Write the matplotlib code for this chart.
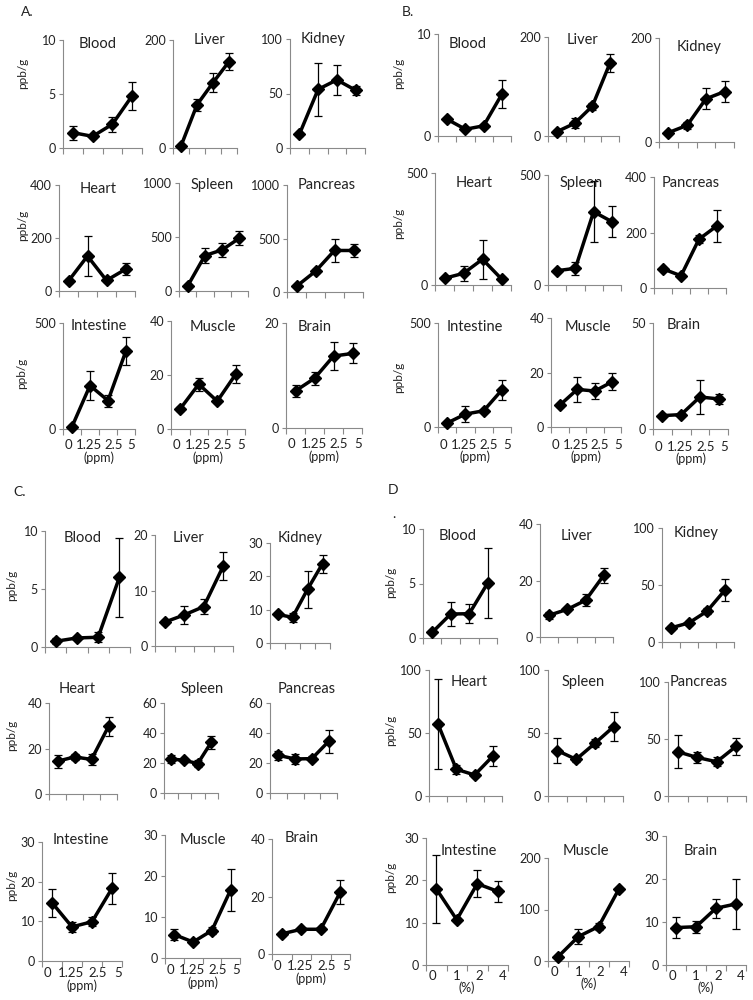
import numpy as np
import matplotlib
matplotlib.use("Agg")
import matplotlib.pyplot as plt

plt.rcParams['font.family'] = ['Lato', 'DejaVu Sans']

# tissue order, same in all four panels (3x3 grid, row by row)
tissues = ["Blood", "Liver", "Kidney", "Heart", "Spleen", "Pancreas",
           "Intestine", "Muscle", "Brain"]
ppm_labels = ["0", "1.25", "2.5", "5"]
pct_labels = ["0", "1", "2", "4"]

# panel A
a_mean = [[1.42, 1.08, 2.2, 4.83], [3.7, 80, 121, 160], [12.6, 53.8, 62.5, 53],
          [38, 132, 40, 82], [46, 328, 381, 489], [53, 194, 388, 388],
          [11, 205, 134, 369], [7.5, 16.6, 10.3, 20.3], [7.07, 9.46, 13.7, 14.2]]
a_err = [[0.65, 0.15, 0.7, 1.3], [1, 11, 18, 16], [1.5, 24, 14, 4],
         [8, 76, 5, 22], [3, 67, 65, 65], [5, 20, 110, 58],
         [2, 69, 28, 65], [0.7, 2.4, 0.8, 3.3], [1.1, 1.2, 2.6, 1.9]]
a_yticks = [[0, 5, 10], [0, 200], [0, 50, 100], [0, 200, 400], [0, 500, 1000],
            [0, 500, 1000], [0, 500], [0, 20, 40], [0, 20]]

# panel B
b_mean = [[1.64, 0.66, 1.0, 4.1], [8.7, 25.5, 60.4, 148], [18, 32, 83, 97],
          [30, 52, 115, 27], [65, 76, 333, 288], [69, 44, 176, 224],
          [19, 62, 78, 178], [8, 13.8, 13.2, 16.6], [6.3, 6.8, 15.1, 14.2]]
b_err = [[0.1, 0.1, 0.2, 1.4], [3, 10, 7, 18], [3, 7, 20, 20],
         [4, 35, 87, 4], [3, 30, 138, 72], [3, 3, 15, 58],
         [2, 37, 5, 48], [0.5, 4.7, 2.9, 3.1], [0.5, 0.5, 7.9, 2.5]]
b_yticks = [[0, 10], [0, 200], [0, 200], [0, 500], [0, 500], [0, 200, 400],
            [0, 500], [0, 20, 40], [0, 50]]

# panel C
c_mean = [[0.49, 0.78, 0.84, 6.0], [4.3, 5.6, 7.1, 14.4], [8.6, 7.7, 16.1, 23.8],
          [14.4, 16.3, 15.2, 29.7], [22.7, 21.8, 19.6, 33.8], [25.1, 22.7, 22.9, 34.4],
          [14.7, 8.6, 9.9, 18.3], [5.7, 3.9, 6.7, 16.6], [7.0, 8.6, 8.6, 21.5]]
c_err = [[0.25, 0.1, 0.45, 3.4], [0.4, 1.6, 1.3, 2.5], [0.3, 1.4, 5.6, 2.7],
         [2.8, 1.5, 2.6, 4.2], [2.4, 1.0, 2.3, 4.4], [3.0, 3.3, 1.5, 7.8],
         [3.5, 1.2, 1.1, 3.9], [1.3, 0.3, 0.9, 5.1], [0.8, 0.5, 0.6, 4.2]]
c_yticks = [[0, 5, 10], [0, 10, 20], [0, 10, 20, 30], [0, 20, 40],
            [0, 20, 40, 60], [0, 20, 40, 60], [0, 10, 20, 30],
            [0, 10, 20, 30], [0, 20, 40]]

# panel D
d_mean = [[0.52, 2.2, 2.23, 5.05], [7.7, 9.8, 13.0, 21.9], [12.4, 16.8, 27, 45.6],
          [56.9, 21.2, 16.7, 31.7], [36, 29.1, 41.8, 55], [38.8, 33.8, 30, 43.7],
          [18.0, 10.7, 19.2, 17.4], [8.4, 47.4, 66.9, 139.6], [8.7, 8.9, 13.2, 14.2]]
d_err = [[0.1, 1.1, 0.87, 3.25], [1.3, 0.6, 2.1, 2.7], [2, 2, 2.5, 9.6],
         [35.7, 3.8, 1.5, 8.2], [10.2, 2, 3.2, 11.5], [14.3, 4.8, 4, 7.3],
         [8, 0.4, 3.2, 2.5], [2, 14.6, 6.5, 3], [2.4, 1.4, 2.2, 5.9]]
d_yticks = [[0, 5, 10], [0, 20, 40], [0, 50, 100], [0, 50, 100], [0, 50, 100],
            [0, 50, 100], [0, 10, 20, 30], [0, 100, 200], [0, 10, 20, 30]]

# layout in pixels: axes box (left, top, right, bottom) and title centre
W, H = 753, 1000
a_boxes = [(63, 40, 142, 148), (173, 40, 237, 148), (290, 39, 365, 148),
           (59, 185, 135, 291), (179, 183, 248, 291), (287, 185, 363, 292),
           (63, 323, 135, 429), (171, 321, 245, 429), (286, 323, 362, 428)]
a_titles = [(98, 44), (210, 40), (323, 39), (98, 189), (212, 185), (327, 185),
            (99, 326), (213, 327), (315, 327)]
b_boxes = [(438, 34, 511, 136), (548, 37, 619, 136), (659, 38, 734, 142),
           (435, 173, 511, 285), (548, 175, 621, 285), (654, 177, 726, 288),
           (438, 323, 511, 427), (551, 318, 621, 427), (653, 323, 728, 429)]
b_titles = [(468, 44), (582, 40), (699, 47), (474, 183), (581, 183), (691, 183),
            (475, 327), (588, 327), (684, 325)]
c_boxes = [(45, 531, 130, 647), (155, 535, 233, 646), (270, 543, 330, 643),
           (49, 703, 117, 794), (164, 703, 218, 793), (270, 703, 337, 793),
           (42, 842, 122, 961), (165, 835, 240, 958), (272, 839, 350, 954)]
c_titles = [(83, 538), (188, 538), (300, 538), (77, 689), (202, 689), (307, 689),
            (81, 840), (203, 840), (302, 838)]
d_boxes = [(423, 529, 497, 638), (540, 524, 613, 637), (662, 528, 734, 642),
           (429, 670, 502, 796), (548, 670, 623, 796), (668, 682, 746, 796),
           (426, 838, 508, 965), (548, 858, 629, 961), (666, 836, 746, 965)]
d_titles = [(458, 536), (576, 536), (696, 533), (469, 682), (583, 682), (699, 682),
            (469, 851), (586, 851), (701, 851)]

# where the dose labels sit along the category axis (Excel spreads them a bit)
ppm_label_x = [-0.22, 0.95, 2.29, 3.31]
pct_label_x = [-0.2, 1.0, 2.1, 3.25]

GRAY = '#8a8a8a'
TXT = '#222222'


def draw_panel(fig, means, errs, yticks, boxes, titles, xlabels, label_x, unit,
               xpad, ylab_pos):
    x = np.arange(4)
    for i in range(9):
        x0, top, x1, bottom = boxes[i]
        ax = fig.add_axes([x0 / W, 1 - bottom / H, (x1 - x0) / W, (bottom - top) / H])
        ax.patch.set_alpha(0)
        ax.errorbar(x, means[i], yerr=errs[i], fmt='none', ecolor='black',
                    elinewidth=0.9, capsize=3, capthick=0.9, zorder=2)
        ax.plot(x, means[i], color='black', lw=2.5, marker='D', ms=6.5,
                zorder=3, clip_on=False)
        ax.set_xlim(-0.5, 3.5)
        ax.set_ylim(0, yticks[i][-1])
        ax.set_yticks(yticks[i])
        ax.set_xticks(label_x)
        ax.set_xticks(np.arange(-0.5, 4, 1), minor=True)
        for s in ['top', 'right']:
            ax.spines[s].set_visible(False)
        for s in ['left', 'bottom']:
            ax.spines[s].set_color(GRAY)
            ax.spines[s].set_linewidth(0.8)
        ax.tick_params(axis='y', length=3, width=0.8, color=GRAY, labelsize=9,
                       labelcolor=TXT, pad=2)
        ax.tick_params(axis='x', which='major', length=0, labelsize=9.5,
                       labelcolor=TXT, pad=xpad)
        ax.tick_params(axis='x', which='minor', length=4, width=0.8, color=GRAY)
        if i >= 6:
            ax.set_xticklabels(xlabels)
            ax.set_xlabel(unit, fontsize=9, color=TXT, labelpad=0)
        else:
            ax.set_xticklabels([])
        tx, ty = titles[i]
        fig.text(tx / W, 1 - ty / H, tissues[i], ha='center', va='center',
                 fontsize=10.5, color=TXT)
    for px, py in ylab_pos:
        fig.text(px / W, 1 - py / H, 'ppb/g', rotation=90, ha='center',
                 va='center', fontsize=8.5, color=TXT)


fig = plt.figure(figsize=(7.53, 10), dpi=100)

draw_panel(fig, a_mean, a_err, a_yticks, a_boxes, a_titles, ppm_labels, ppm_label_x,
           '(ppm)', 7.5, [(23, 73), (23, 225), (22, 373)])
draw_panel(fig, b_mean, b_err, b_yticks, b_boxes, b_titles, ppm_labels, ppm_label_x,
           '(ppm)', 8.5, [(399, 73), (399, 223), (399, 377)])
draw_panel(fig, c_mean, c_err, c_yticks, c_boxes, c_titles, ppm_labels, ppm_label_x,
           '(ppm)', 4.5, [(12, 585), (12, 735), (12, 885)])
draw_panel(fig, d_mean, d_err, d_yticks, d_boxes, d_titles, pct_labels, pct_label_x,
           '(%)', 3.5, [(391, 582), (391, 730), (391, 877)])

for lab, px, py in [("A.", 27, 12), ("B.", 408, 12), ("C.", 20, 492), ("D", 393, 490), (".", 394, 514)]:
    fig.text(px / W, 1 - py / H, lab, ha='center', va='center', fontsize=10, color=TXT)

fig.savefig('out.png', dpi=100)
